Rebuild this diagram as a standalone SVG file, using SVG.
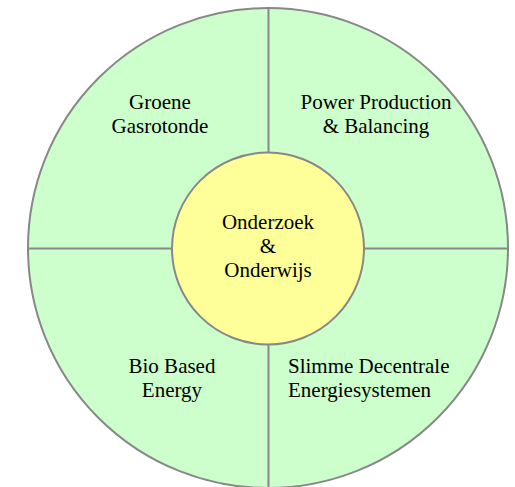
<svg xmlns="http://www.w3.org/2000/svg" width="515" height="487" viewBox="0 0 515 487">
<style>
.ring{fill:#ccffcc;stroke:#888888;stroke-width:2}
.core{fill:#ffff99;stroke:#888888;stroke-width:2}
.div{stroke:#888888;stroke-width:2;fill:none}
text{font-family:"Liberation Serif","Times New Roman",serif;font-size:21px;fill:#000}
.c{text-anchor:middle}
</style>
<rect width="515" height="487" fill="#ffffff"/>
<g id="outer"><circle class="ring" cx="268" cy="248" r="240"/></g>
<g id="connectors">
<line class="div" x1="268.5" y1="8" x2="268.5" y2="488"/>
<line class="div" x1="28" y1="248.5" x2="508" y2="248.5"/>
</g>
<g id="groene"><text class="c" x="160" y="109">Groene</text><text class="c" x="160" y="133">Gasrotonde</text></g>
<g id="power"><text class="c" x="376" y="109">Power Production</text><text class="c" x="376" y="133">&amp; Balancing</text></g>
<g id="bio"><text class="c" x="172" y="373">Bio Based</text><text class="c" x="172" y="397">Energy</text></g>
<g id="slimme"><text x="288" y="373">Slimme Decentrale</text><text x="288" y="397">Energiesystemen</text></g>
<g id="center"><circle class="core" cx="268" cy="248.5" r="96"/>
<text class="c" x="268" y="229">Onderzoek</text><text class="c" x="268" y="253">&amp;</text><text class="c" x="268" y="277">Onderwijs</text></g>
</svg>
